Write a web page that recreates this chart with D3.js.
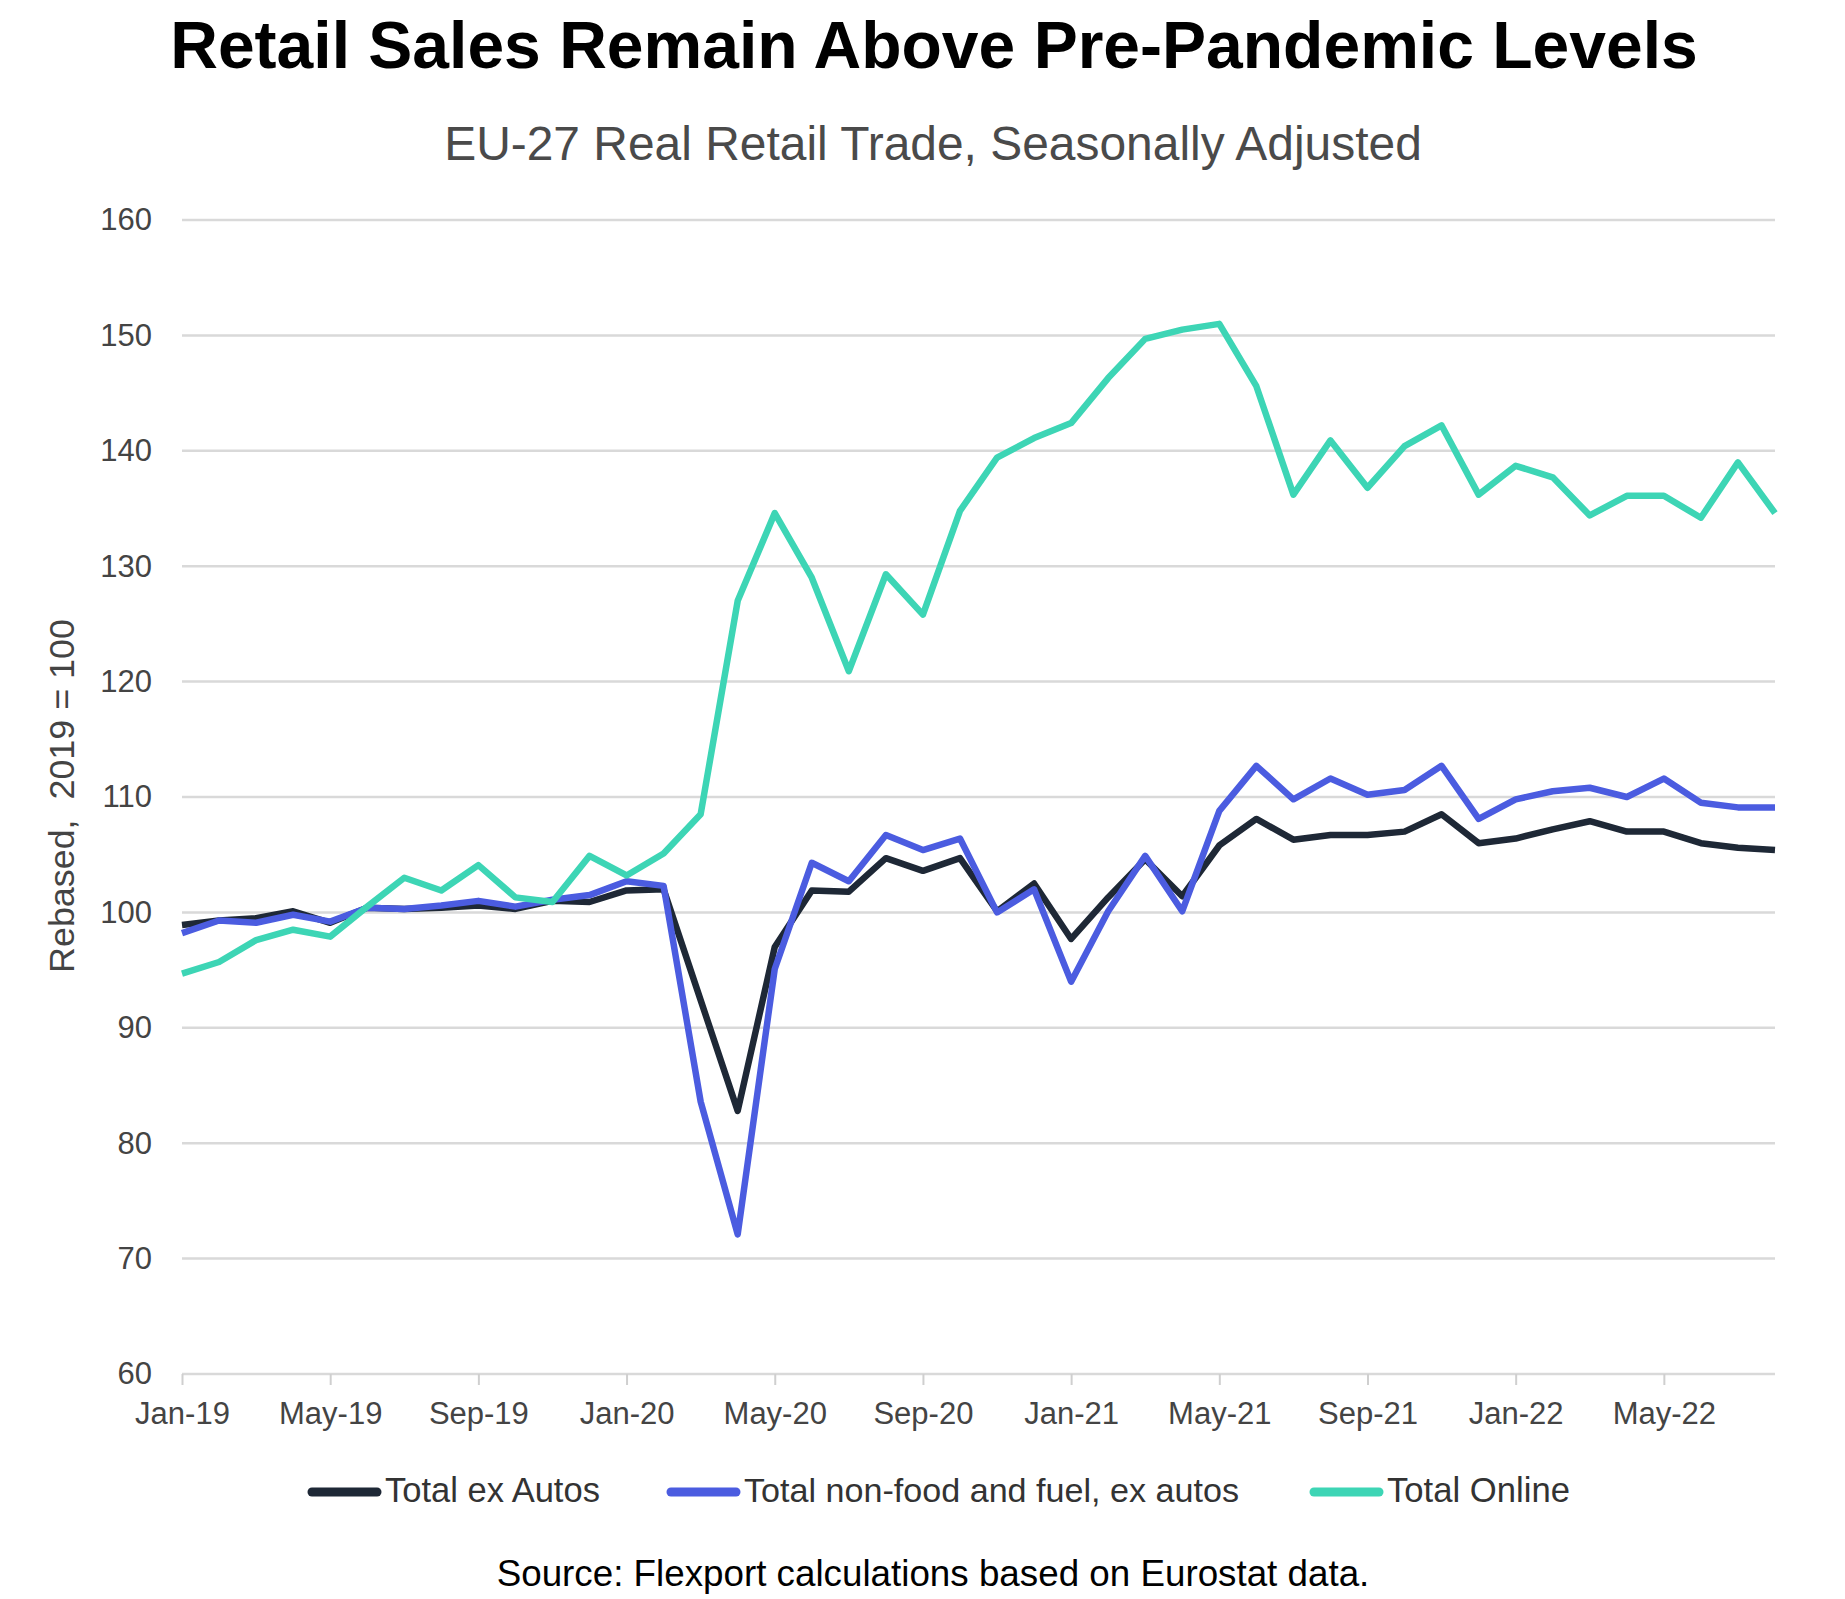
<!DOCTYPE html>
<html>
<head>
<meta charset="utf-8">
<script src="https://cdn.jsdelivr.net/npm/d3@7"></script>
<style>
  body { margin: 0; background: #fff; }
  text { font-family: "Liberation Sans", Arial, sans-serif; }
</style>
</head>
<body>
<svg id="chart"></svg>
<script>
// EU-27 retail trade, rebased 2019 = 100

const months = [
  "Jan-19","Feb-19","Mar-19","Apr-19","May-19","Jun-19","Jul-19","Aug-19","Sep-19","Oct-19","Nov-19","Dec-19",
  "Jan-20","Feb-20","Mar-20","Apr-20","May-20","Jun-20","Jul-20","Aug-20","Sep-20","Oct-20","Nov-20","Dec-20",
  "Jan-21","Feb-21","Mar-21","Apr-21","May-21","Jun-21","Jul-21","Aug-21","Sep-21","Oct-21","Nov-21","Dec-21",
  "Jan-22","Feb-22","Mar-22","Apr-22","May-22","Jun-22","Jul-22","Aug-22"
];

const xTickLabels = ["Jan-19","May-19","Sep-19","Jan-20","May-20","Sep-20","Jan-21","May-21","Sep-21","Jan-22","May-22"];
const yTicks = [60, 70, 80, 90, 100, 110, 120, 130, 140, 150, 160];

const totalExAutos = [
  98.9, 99.3, 99.5, 100.1, 99.1, 100.4, 100.3, 100.4, 100.6, 100.3, 101.0, 100.9,
  101.9, 102.0, 92.4, 82.8, 97.0, 101.9, 101.8, 104.7, 103.6, 104.7, 100.1, 102.5,
  97.7, 101.3, 104.6, 101.4, 105.8, 108.1, 106.3, 106.7, 106.7, 107.0, 108.5, 106.0,
  106.4, 107.2, 107.9, 107.0, 107.0, 106.0, 105.6, 105.4
];

const nonFoodFuel = [
  98.2, 99.3, 99.1, 99.8, 99.2, 100.4, 100.3, 100.6, 101.0, 100.5, 101.1, 101.5,
  102.7, 102.3, 83.6, 72.1, 95.1, 104.3, 102.7, 106.7, 105.4, 106.4, 100.0, 102.0,
  94.0, 100.1, 104.9, 100.1, 108.8, 112.7, 109.8, 111.6, 110.2, 110.6, 112.7, 108.1,
  109.8, 110.5, 110.8, 110.0, 111.6, 109.5, 109.1, 109.1
];

const totalOnline = [
  94.7, 95.7, 97.6, 98.5, 97.9, 100.5, 103.0, 101.9, 104.1, 101.3, 100.9, 104.9,
  103.2, 105.1, 108.5, 127.0, 134.6, 129.0, 120.9, 129.3, 125.8, 134.8, 139.4, 141.1,
  142.4, 146.3, 149.7, 150.5, 151.0, 145.6, 136.2, 140.9, 136.8, 140.4, 142.2, 136.2,
  138.7, 137.7, 134.4, 136.1, 136.1, 134.2, 139.0, 134.6
];

const seriesNames = ["Total ex Autos", "Total non-food and fuel, ex autos", "Total Online"];
const seriesColors = ["#1e2836", "#4b5ce0", "#3dd5b5"];

const width = 1845;
const height = 1599;
const plotLeft = 182, plotRight = 1775, plotTop = 220, plotBottom = 1374;

const svg = d3.select("#chart").attr("width", width).attr("height", height);

// scale font so that a text spans the wanted width
function fitText(sel, target) {
  const node = sel.node();
  const fs = parseFloat(sel.attr("font-size"));
  const w = node.getComputedTextLength();
  sel.attr("font-size", fs * target / w);
  return fs * target / w;
}

const x = d3.scalePoint().domain(months).range([plotLeft, plotRight]);
const y = d3.scaleLinear().domain([60, 160]).range([plotBottom, plotTop]);

// gridlines
svg.append("g")
  .selectAll("line")
  .data(yTicks)
  .enter()
  .append("line")
  .attr("x1", plotLeft)
  .attr("x2", plotRight)
  .attr("y1", d => y(d))
  .attr("y2", d => y(d))
  .attr("stroke", "#d9d9d9")
  .attr("stroke-width", 2.5);

// y axis labels
const yAxis = svg.append("g")
  .attr("transform", `translate(${plotLeft},0)`)
  .call(d3.axisLeft(y).tickValues(yTicks).tickSize(0).tickPadding(30));
yAxis.select(".domain").remove();
yAxis.selectAll("text")
  .attr("font-size", 31)
  .attr("fill", "#444")
  .attr("font-family", "Liberation Sans, Arial, sans-serif");

// x axis
const xAxis = svg.append("g")
  .attr("transform", `translate(0,${plotBottom})`)
  .call(d3.axisBottom(x).tickValues(xTickLabels).tickSize(11).tickPadding(17));
xAxis.select(".domain").remove();
xAxis.selectAll("line").attr("stroke", "#cfcfcf").attr("stroke-width", 2);
xAxis.selectAll("text")
  .attr("font-size", 31)
  .attr("fill", "#444")
  .attr("font-family", "Liberation Sans, Arial, sans-serif");

// lines
const line = d3.line()
  .x((d, i) => x(months[i]))
  .y(d => y(d));

[totalExAutos, nonFoodFuel, totalOnline].forEach((vals, k) => {
  svg.append("path")
    .datum(vals)
    .attr("d", line)
    .attr("fill", "none")
    .attr("stroke", seriesColors[k])
    .attr("stroke-width", 6.5)
    .attr("stroke-linejoin", "round")
    .attr("stroke-linecap", "butt");
});

// titles
const title = svg.append("text")
  .attr("x", 934)
  .attr("y", 68)
  .attr("text-anchor", "middle")
  .attr("font-size", 64)
  .attr("font-weight", "bold")
  .attr("fill", "#000")
  .text("Retail Sales Remain Above Pre-Pandemic Levels");
fitText(title, 1528);

const subtitle = svg.append("text")
  .attr("x", 933)
  .attr("y", 160)
  .attr("text-anchor", "middle")
  .attr("font-size", 44)
  .attr("fill", "#4a4a4a")
  .text("EU-27 Real Retail Trade, Seasonally Adjusted");
fitText(subtitle, 978);

const yTitle = svg.append("text")
  .attr("transform", "translate(74,796) rotate(-90)")
  .attr("text-anchor", "middle")
  .attr("font-size", 29)
  .attr("fill", "#444")
  .style("white-space", "pre")
  .text("Rebased,  2019 = 100");
fitText(yTitle, 354);

// legend
const legendX = [307, 666, 1309];
const legendW = [215, 495, 183];
seriesNames.forEach((name, k) => {
  const g = svg.append("g");
  g.append("line")
    .attr("x1", legendX[k] + 5)
    .attr("x2", legendX[k] + 70)
    .attr("y1", 1492)
    .attr("y2", 1492)
    .attr("stroke", seriesColors[k])
    .attr("stroke-width", 9)
    .attr("stroke-linecap", "round");
  const t = g.append("text")
    .attr("x", legendX[k] + 78)
    .attr("y", 1502)
    .attr("font-size", 30)
    .attr("fill", "#333")
    .text(name);
  fitText(t, legendW[k]);
});

const source = svg.append("text")
  .attr("x", 933)
  .attr("y", 1586)
  .attr("text-anchor", "middle")
  .attr("font-size", 33)
  .attr("fill", "#000")
  .text("Source: Flexport calculations based on Eurostat data.");
fitText(source, 873);
</script>
</body>
</html>
